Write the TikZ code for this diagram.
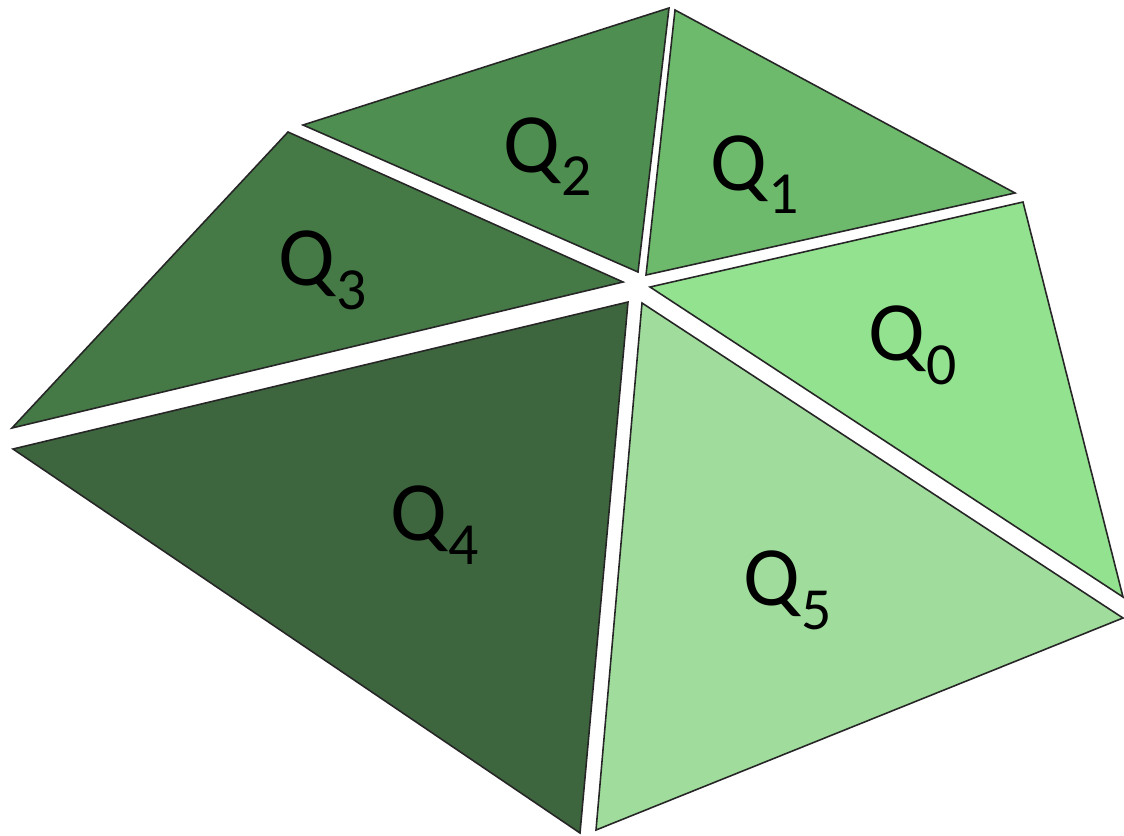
\documentclass[tikz,border=0pt]{standalone}
\usepackage{fontspec}
\setmainfont{Carlito}
\usepackage{tikz}
\usetikzlibrary{positioning}
\tikzstyle{facet} = [draw=black!85, line width=0.9pt, line join=miter]
\tikzstyle{qlabel} = [anchor=base west, inner sep=0pt, font=\fontsize{48}{48}\selectfont]
\newcommand{\qsub}[1]{Q\kern1pt\raisebox{-0.48cm}{\fontsize{34}{34}\selectfont #1}}
\definecolor{qzero}{HTML}{93E28F}
\definecolor{qone}{HTML}{6DBA6D}
\definecolor{qtwo}{HTML}{4E8E50}
\definecolor{qthree}{HTML}{457A46}
\definecolor{qfour}{HTML}{3D663E}
\definecolor{qfive}{HTML}{A0DC9C}

\begin{document}
\begin{tikzpicture}[x=0.02cm, y=-0.02cm]
    \useasboundingbox (0,0) rectangle (1124,835);

    % facets
    \filldraw[facet, fill=qtwo] (303,125) -- (669,8) -- (638,272) -- cycle;
    \filldraw[facet, fill=qone] (675,10) -- (1015,193) -- (646,275) -- cycle;
    \filldraw[facet, fill=qzero] (650,287) -- (1023,202) -- (1123,597) -- cycle;
    \filldraw[facet, fill=qfive] (642,303) -- (1123,618) -- (596,830) -- cycle;
    \filldraw[facet, fill=qfour] (628,302) -- (13,449) -- (580,833) -- cycle;
    \filldraw[facet, fill=qthree] (288,132) -- (623,282) -- (12,428) -- cycle;

    % labels
    \node[qlabel] (q0) at (868,360) {\qsub{0}};
    \node[qlabel] (q1) at (710,190) {\qsub{1}};
    \node[qlabel] (q2) at (503,172) {\qsub{2}};
    \node[qlabel] (q3) at (278,285) {\qsub{3}};
    \node[qlabel] (q4) at (390,540) {\qsub{4}};
    \node[qlabel] (q5) at (743,605) {\qsub{5}};
\end{tikzpicture}
\end{document}
